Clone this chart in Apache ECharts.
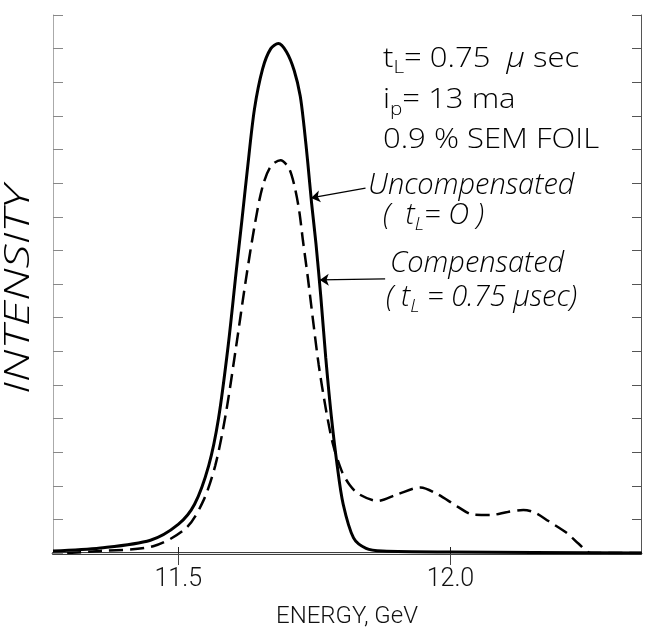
<!DOCTYPE html>
<html>
<head>
<meta charset="utf-8">
<script src="https://cdn.jsdelivr.net/npm/echarts@6/dist/echarts.min.js"></script>
<style>
  html, body { margin: 0; padding: 0; background: #fff; }
  #chart { width: 650px; height: 634px; }
</style>
</head>
<body>
<div id="chart"></div>
<script>
// energy (GeV) / intensity (arb. units, 16 tick divisions)
var energySolid = [11.270, 11.357, 11.449, 11.500, 11.530, 11.556, 11.574, 11.592, 11.606, 11.617,
  11.627, 11.640, 11.655, 11.670, 11.684, 11.699, 11.713, 11.724, 11.731, 11.738, 11.745, 11.753,
  11.762, 11.771, 11.781, 11.792, 11.803, 11.822, 11.845, 11.875, 12.000, 12.351];
var intensitySolid = [0.06, 0.15, 0.38, 0.85, 1.45, 2.60, 4.00, 6.20, 8.30, 9.90,
  11.40, 13.20, 14.40, 15.00, 15.15, 14.90, 14.35, 13.60, 12.70, 11.60, 10.40, 9.20,
  7.60, 5.80, 4.10, 2.60, 1.45, 0.45, 0.14, 0.06, 0.03, 0.0];

var energyDashed = [11.296, 11.357, 11.454, 11.515, 11.546, 11.568, 11.587, 11.606, 11.624, 11.641,
  11.655, 11.670, 11.688, 11.703, 11.713, 11.722, 11.729, 11.738, 11.747, 11.758, 11.771, 11.784,
  11.800, 11.815, 11.832, 11.866, 11.903, 11.945, 11.976, 12.013, 12.042, 12.074, 12.105, 12.134,
  12.155, 12.180, 12.215, 12.235, 12.258, 12.351];
var intensityDashed = [0.0, 0.06, 0.20, 0.75, 1.55, 2.60, 4.10, 6.10, 8.10, 9.80,
  10.90, 11.50, 11.68, 11.45, 10.95, 10.20, 9.30, 8.20, 7.00, 5.60, 4.30, 3.25,
  2.45, 2.02, 1.75, 1.55, 1.75, 1.95, 1.75, 1.38, 1.14, 1.13, 1.22, 1.28,
  1.20, 0.95, 0.58, 0.28, 0.0, 0.0];

var xTicks = [11.5, 12.0];
var xTickLabels = ['11.5', '12.0'];

function pairs(xs, ys) {
  var out = [];
  for (var i = 0; i < xs.length; i++) out.push([xs[i], ys[i]]);
  return out;
}

var FONT = 'Roboto';
var NOTE = 'Open Sans';
var chart = echarts.init(document.getElementById('chart'));

var rich = {
  m: { fontSize: 27, fontFamily: NOTE, fontWeight: 300, lineHeight: 36, verticalAlign: 'middle', fill: '#000' },
  mu: { fontSize: 28, fontFamily: NOTE, fontWeight: 300, fontStyle: 'italic', lineHeight: 36, verticalAlign: 'middle', fill: '#000' },
  s: { fontSize: 18, fontFamily: NOTE, fontWeight: 300, lineHeight: 18, verticalAlign: 'bottom', fill: '#000' },
  mi: { fontSize: 29, fontFamily: NOTE, fontWeight: 300, fontStyle: 'italic', lineHeight: 38, verticalAlign: 'middle', fill: '#000' },
  si: { fontSize: 19, fontFamily: NOTE, fontWeight: 300, fontStyle: 'italic', lineHeight: 19, verticalAlign: 'bottom', fill: '#000' }
};

var option = {
  animation: false,
  backgroundColor: '#fff',
  grid: { left: 53, right: 9, top: 15, bottom: 75 },
  xAxis: [{
    type: 'value', min: 11.27, max: 12.35, position: 'bottom',
    name: 'ENERGY, GeV', nameLocation: 'middle', nameGap: 52,
    nameTextStyle: { fontSize: 24, fontFamily: FONT, fontWeight: 300, color: '#111' },
    axisLine: { show: true, lineStyle: { color: '#000', width: 2.5 } },
    axisTick: { show: true, inside: true, length: 6, customValues: xTicks, lineStyle: { color: '#222' } },
    axisLabel: { show: true, customValues: xTicks, margin: 14, fontSize: 25, fontFamily: FONT, fontWeight: 300, color: '#111',
      formatter: function (v) { return xTickLabels[xTicks.indexOf(v)] || ''; } },
    splitLine: { show: false }
  }, {
    type: 'value', min: 11.27, max: 12.35, position: 'top',
    axisLine: { show: true, lineStyle: { color: '#eee', width: 1 } },
    axisTick: { show: true, inside: true, length: 12, customValues: xTicks, lineStyle: { color: '#444' } },
    axisLabel: { show: false },
    splitLine: { show: false }
  }],
  yAxis: [{
    type: 'value', min: 0, max: 16, interval: 1, position: 'left',
    axisLine: { show: true, lineStyle: { color: '#aaa', width: 1 } },
    axisTick: { show: true, inside: true, length: 10, lineStyle: { color: '#888' } },
    axisLabel: { show: false },
    splitLine: { show: false }
  }, {
    type: 'value', min: 0, max: 16, interval: 1, position: 'right',
    axisLine: { show: true, lineStyle: { color: '#555', width: 1 } },
    axisTick: { show: true, inside: true, length: 9, lineStyle: { color: '#555' } },
    axisLabel: { show: false },
    splitLine: { show: false }
  }],
  series: [{
    name: 'Uncompensated', type: 'line', data: pairs(energySolid, intensitySolid),
    smooth: 0.3, showSymbol: false,
    lineStyle: { color: '#000', width: 3 },
    markLine: {
      silent: true, symbol: ['none', 'arrow'], symbolSize: 9,
      label: { show: false },
      lineStyle: { type: 'solid', color: '#000', width: 1.2 },
      data: [
        [{ coord: [11.844, 10.85] }, { coord: [11.744, 10.56] }],
        [{ coord: [11.880, 8.15] }, { coord: [11.760, 8.12] }]
      ]
    }
  }, {
    name: 'Compensated', type: 'line', data: pairs(energyDashed, intensityDashed),
    smooth: 0.3, showSymbol: false,
    lineStyle: { color: '#000', width: 2.5, type: [14, 7] }
  }],
  graphic: [
    // y-axis title, stretched to match the wide lettering
    { type: 'text', x: 19, y: 290, rotation: Math.PI / 2, scaleX: 1.4,
      style: { text: 'INTENSITY', fontSize: 34, fontFamily: NOTE, fontWeight: 300, fontStyle: 'italic', fill: '#000', align: 'center', verticalAlign: 'middle' } },
    { type: 'text', left: 383, top: 45, scaleX: 1.15, style: { text: '{m|t}{s|L}{m|= 0.75  }{mu|μ}{m| sec}', rich: rich } },
    { type: 'text', left: 383, top: 87, scaleX: 1.15, style: { text: '{m|i}{s|p}{m|= 13 ma}', rich: rich } },
    { type: 'text', left: 383, top: 127, scaleX: 1.15, style: { text: '{m|0.9 % SEM FOIL}', rich: rich } },
    { type: 'text', left: 368, top: 171, style: { text: '{mi|Uncompensated}', rich: rich } },
    { type: 'text', left: 383, top: 201, style: { text: '{mi|(  t}{si|L}{mi|= O )}', rich: rich } },
    { type: 'text', left: 390, top: 249, style: { text: '{mi|Compensated}', rich: rich } },
    { type: 'text', left: 386, top: 283, style: { text: '{mi|( t}{si|L}{mi| = 0.75 μsec)}', rich: rich } }
  ]
};

chart.setOption(option);
</script>
</body>
</html>
